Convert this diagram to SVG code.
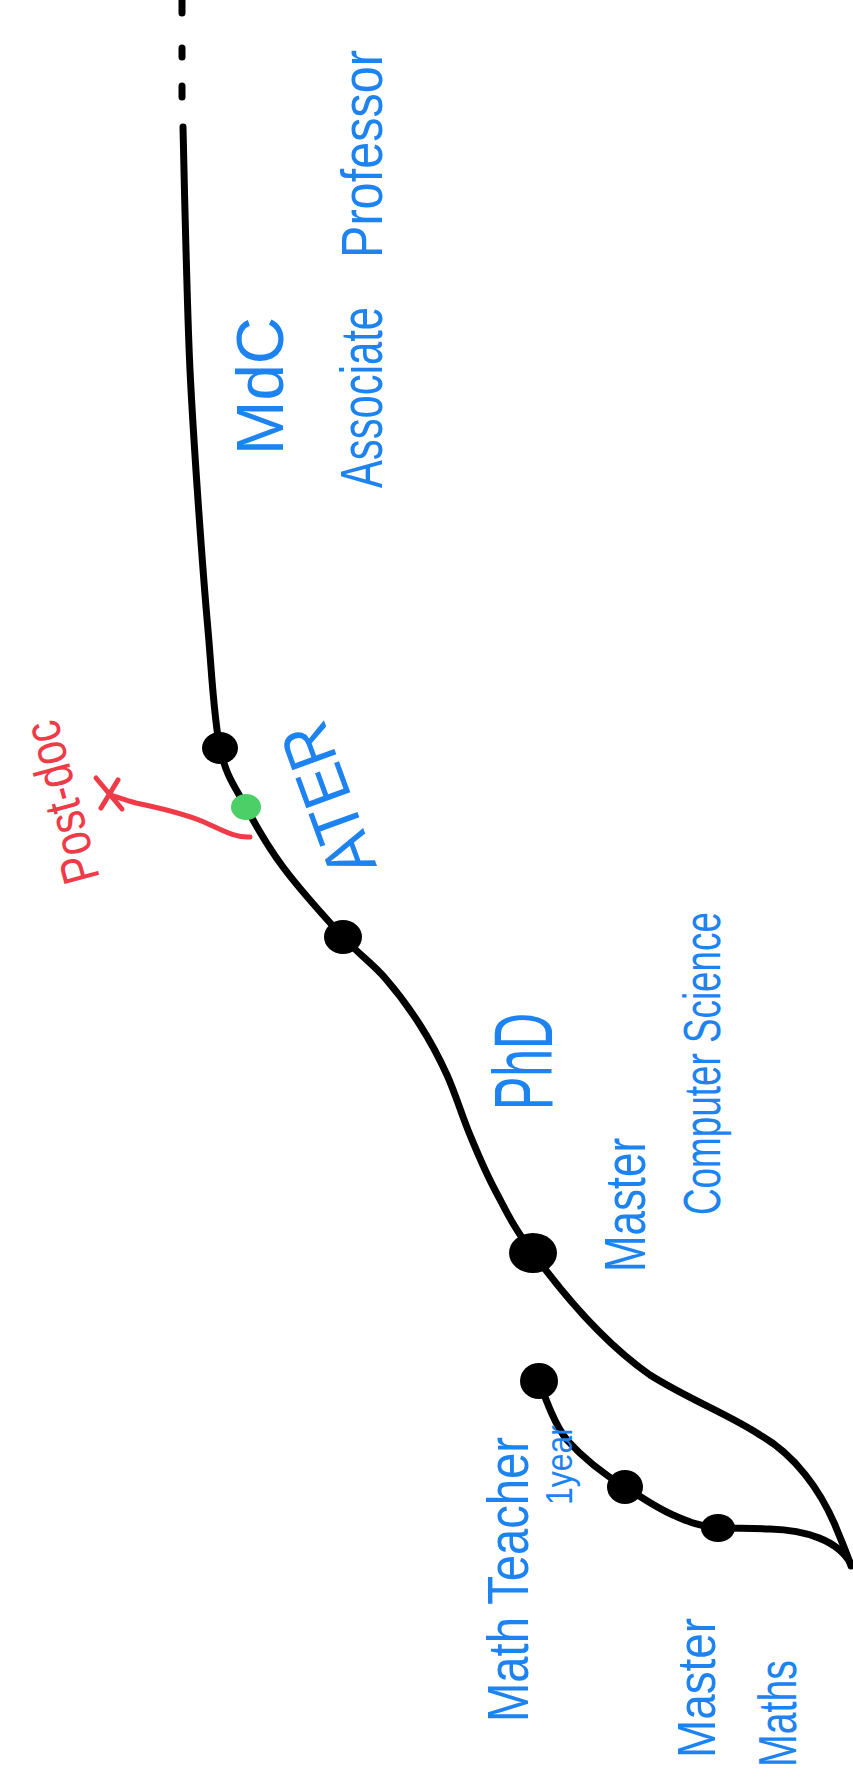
<svg xmlns="http://www.w3.org/2000/svg" width="853" height="1779" viewBox="0 0 853 1779">
<style>
.path{fill:none;stroke:#000;stroke-width:7;stroke-linecap:round;stroke-linejoin:round}
.dot{fill:#000}
.lbl{font-family:"Liberation Sans",Arial,sans-serif;fill:#1d83f0}
.red{font-family:"Liberation Sans",Arial,sans-serif;fill:#ef3a48}
</style>
<rect width="853" height="1779" fill="#fff"/>
<g id="connectors">
<path class="path" d="M182,0 V13 M182,48 V57 M182,86 V97"/>
<path class="path" d="M183,127 C183.5,147.5 184.8,209.5 186,250 C187.2,290.5 188,328.3 190,370 C192,411.7 195,456.7 198,500 C201,543.3 204.3,588.7 208,630 C211.7,671.3 213.7,718.5 220,748 C226.3,777.5 235.5,787.2 246,807 C256.5,826.8 266.8,845.3 283,867 C299.2,888.7 326,918.5 343,937 C360,955.5 372.2,963.3 385,978 C397.8,992.7 409.7,1008.8 420,1025 C430.3,1041.2 438.7,1056.7 447,1075 C455.3,1093.3 462,1115.8 470,1135 C478,1154.2 484.5,1170.3 495,1190 C505.5,1209.7 512,1225 533,1253 C560,1290 600,1340 650,1375 C690,1400 730,1415 760,1435 C795,1455 820,1490 835,1525 C842,1542 848,1556 851,1566"/>
<path class="path" d="M851,1564 C838,1540 805,1530 770,1529 C745,1528 730,1528 718,1528 C700,1527 685,1520 673,1515 C655,1507 640,1496 625,1487 C605,1475 585,1460 567,1440 C555,1425 546,1400 539,1381"/>
<path d="M250,837 C235,838 222,830 204,822 C185,814 160,808 136,803 C125,800 117,797 110,795" fill="none" stroke="#ef3a48" stroke-width="5" stroke-linecap="round"/>
<path d="M96,778 L122,809 M118,780 L101,808" fill="none" stroke="#ef3a48" stroke-width="5" stroke-linecap="round"/>
</g>
<g id="node-mdc"><ellipse class="dot" cx="220" cy="748" rx="18" ry="16"/></g>
<g id="node-postdoc"><ellipse cx="246" cy="807" rx="15" ry="13" fill="#4ccf67"/></g>
<g id="node-ater"><ellipse class="dot" cx="343" cy="937" rx="19" ry="17"/></g>
<g id="node-phd"><ellipse class="dot" cx="533" cy="1253" rx="24" ry="20"/></g>
<g id="node-teacher"><ellipse class="dot" cx="539" cy="1381" rx="19" ry="18"/></g>
<g id="node-master-math-1"><ellipse class="dot" cx="625" cy="1487" rx="18" ry="17"/></g>
<g id="node-master-math-2"><ellipse class="dot" cx="718" cy="1528" rx="17" ry="14"/></g>
<g id="labels">
<text class="lbl" font-size="66" textLength="138" lengthAdjust="spacingAndGlyphs" transform="translate(283,455) rotate(-90)">MdC</text>
<text class="lbl" font-size="60" textLength="181" lengthAdjust="spacingAndGlyphs" transform="translate(382,488) rotate(-90)">Associate</text>
<text class="lbl" font-size="58" textLength="208" lengthAdjust="spacingAndGlyphs" transform="translate(382,258) rotate(-90)">Professor</text>
<text class="lbl" font-size="68" textLength="158" lengthAdjust="spacingAndGlyphs" transform="translate(377,866) rotate(-110)">ATER</text>
<text class="red" font-size="52" textLength="166" lengthAdjust="spacingAndGlyphs" transform="translate(100,878) rotate(-105)">Post-doc</text>
<text class="lbl" font-size="84" textLength="97" lengthAdjust="spacingAndGlyphs" transform="translate(552,1110) rotate(-90)">PhD</text>
<text class="lbl" font-size="58" textLength="134" lengthAdjust="spacingAndGlyphs" transform="translate(645,1272) rotate(-90)">Master</text>
<text class="lbl" font-size="52" textLength="303" lengthAdjust="spacingAndGlyphs" transform="translate(720,1215) rotate(-90)">Computer Science</text>
<text class="lbl" font-size="57" textLength="285" lengthAdjust="spacingAndGlyphs" transform="translate(528,1722) rotate(-90)">Math Teacher</text>
<text class="lbl" font-size="36" textLength="80" lengthAdjust="spacingAndGlyphs" transform="translate(572,1505) rotate(-90)">1year</text>
<text class="lbl" font-size="54" textLength="140" lengthAdjust="spacingAndGlyphs" transform="translate(715,1758) rotate(-90)">Master</text>
<text class="lbl" font-size="54" textLength="107" lengthAdjust="spacingAndGlyphs" transform="translate(796,1767) rotate(-90)">Maths</text>
</g>
</svg>
